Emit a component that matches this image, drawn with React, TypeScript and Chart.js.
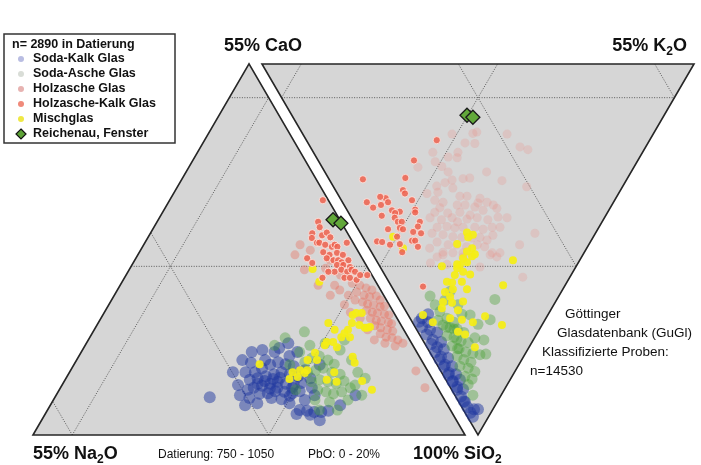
import React, { useEffect, useRef } from "react";
import { Chart, registerables } from "chart.js";

Chart.register(...registerables);

// ---------- DATA ----------
// Left diagram (Na2O – CaO – SiO2): pairs [Na2O %, CaO %], SiO2 = rest
// Right diagram (CaO – K2O – SiO2): pairs [CaO %, K2O %], SiO2 = rest

const sodaKalkLeft: number[][] = [
  [22.1, 9.3], [20.9, 9.9], [19.6, 10.4], [18.4, 10.8], [17.6, 10.5], [16.7, 10.2], [23.3, 8.2], [22.2, 8.4],
  [21.0, 8.7], [19.8, 9.0], [18.7, 9.3], [17.8, 9.0], [16.9, 8.7], [23.4, 7.0], [22.2, 7.3], [21.0, 7.6],
  [19.9, 7.9], [19.0, 7.6], [18.1, 7.4], [17.0, 7.7], [23.1, 6.1], [22.0, 6.2], [20.9, 6.5], [19.8, 6.4],
  [18.9, 6.2], [17.8, 6.5], [21.9, 5.5], [20.7, 5.3], [19.9, 11.1], [16.5, 11.7], [15.6, 9.6], [15.5, 8.4],
  [23.3, 9.3], [24.3, 6.7], [22.8, 11.1], [25.2, 7.4], [24.9, 9.3], [21.0, 12.3], [19.5, 12.6], [17.2, 12.9],
  [15.2, 12.3], [15.7, 13.6], [16.0, 7.0], [16.2, 5.9], [17.8, 5.2], [24.7, 5.5], [24.1, 4.7], [20.0, 4.7],
  [25.7, 5.9], [21.9, 10.7], [29.7, 5.6], [13.3, 10.4], [25.8, 4.4], [18.1, 12.3], [19.2, 3.7], [18.3, 3.6],
  [17.5, 3.4], [16.6, 3.4], [15.6, 3.6], [18.2, 3.0], [19.9, 3.1], [17.4, 2.2], [13.7, 4.4], [11.0, 5.9],
  [21.5, 8.0], [20.3, 8.3], [19.3, 8.5], [22.6, 7.6], [20.4, 7.0], [18.5, 7.0], [21.4, 6.9], [19.4, 5.8],
];
const sodaKalkRight: number[][] = [
  [15.8, 1.5], [14.7, 2.0], [15.1, 0.9], [13.9, 1.7], [12.8, 2.4], [14.0, 0.9], [12.8, 1.3], [11.6, 2.2],
  [12.7, 0.8], [11.7, 1.3], [10.7, 2.0], [11.6, 0.7], [10.5, 1.1], [9.5, 1.9], [10.5, 0.7], [9.4, 1.0],
  [8.4, 1.8], [9.4, 0.7], [8.3, 0.9], [7.3, 1.7], [8.2, 0.7], [7.2, 0.8], [6.4, 1.8], [7.2, 0.7],
  [6.2, 0.9], [5.3, 1.5], [6.0, 0.7], [5.0, 0.7], [4.1, 0.8], [4.3, 0.7], [3.4, 0.7], [2.6, 0.7],
  [2.0, 0.7], [2.4, 1.4], [15.3, 2.6], [15.9, 0.9], [1.9, 1.9],
];
const sodaAscheLeft: number[][] = [
  [15.0, 10.8], [13.8, 11.4], [12.7, 11.7], [11.9, 11.1], [11.4, 10.5], [15.4, 9.3], [14.2, 9.6], [13.1, 9.9],
  [12.3, 9.3], [11.4, 9.0], [15.6, 7.9], [14.4, 8.2], [13.5, 7.9], [12.6, 7.6], [11.4, 8.0], [15.4, 6.7],
  [14.5, 6.4], [13.7, 6.1], [12.5, 6.4], [11.1, 7.0], [14.9, 12.3], [13.1, 13.3], [11.0, 13.6], [9.6, 12.6],
  [8.9, 11.1], [9.0, 9.3], [10.3, 7.4], [12.3, 5.2], [14.8, 4.9], [16.5, 5.2], [18.2, 6.7], [17.1, 10.4],
  [15.7, 14.4], [12.8, 15.3], [10.2, 5.9], [14.4, 3.7], [16.7, 3.7], [8.5, 8.4], [17.6, 13.3], [8.3, 14.1],
];
const sodaAscheRight: number[][] = [
  [14.0, 4.3], [12.6, 4.7], [11.4, 5.3], [12.6, 3.7], [11.5, 4.4], [10.5, 5.2], [9.4, 5.8], [11.3, 3.4],
  [10.3, 4.2], [9.1, 4.8], [8.1, 5.6], [9.9, 3.3], [8.8, 4.0], [7.7, 4.6], [6.7, 5.4], [8.5, 3.2],
  [7.4, 3.8], [6.3, 4.5], [7.4, 2.8], [6.2, 3.7], [5.1, 4.3], [6.0, 2.7], [4.9, 3.4], [15.1, 4.2],
  [14.2, 5.8], [12.2, 7.1], [9.9, 7.9], [8.2, 8.2], [6.3, 7.8], [5.7, 6.2], [16.4, 4.2], [14.2, 7.1],
  [7.0, 10.1], [7.9, 12.2], [3.6, 2.3], [5.0, 2.5], [13.6, 3.4], [11.0, 6.9], [7.6, 6.8], [5.0, 7.0],
  [12.0, 4.0], [10.9, 4.8], [9.8, 4.4], [9.0, 3.8],
];
const holzascheRight: number[][] = [
  [22.6, 22.3], [22.0, 21.2], [25.6, 19.0], [23.3, 20.0], [18.6, 26.0], [16.0, 26.7], [14.8, 27.5], [26.7, 15.2],
  [23.5, 18.4], [24.4, 16.8], [23.2, 17.9], [27.5, 12.2], [24.5, 15.3], [25.7, 14.8], [18.4, 20.6], [23.3, 15.7],
  [20.9, 17.1], [20.1, 18.0], [22.2, 15.6], [15.8, 21.9], [23.7, 13.2], [22.9, 14.5], [21.5, 15.1], [12.2, 24.6],
  [24.4, 11.4], [23.1, 12.9], [20.0, 15.4], [19.1, 16.3], [17.3, 17.8], [22.9, 11.9], [21.7, 12.8], [17.2, 17.2],
  [16.1, 18.4], [15.1, 19.0], [21.7, 12.0], [19.7, 14.4], [18.7, 15.4], [17.3, 16.5], [16.0, 17.3], [14.4, 19.2],
  [22.0, 11.0], [20.3, 12.6], [18.8, 14.2], [17.3, 15.3], [22.2, 10.0], [20.6, 11.3], [19.4, 12.8], [18.4, 13.2],
  [17.4, 14.6], [16.2, 16.0], [14.7, 17.2], [13.6, 18.7], [12.4, 19.8], [20.6, 10.2], [19.4, 11.5], [18.3, 12.4],
  [17.3, 13.5], [15.8, 15.0], [14.6, 15.9], [13.6, 17.2], [12.6, 18.2], [7.7, 22.2], [20.8, 9.1], [19.3, 10.4],
  [17.9, 11.5], [16.7, 12.6], [15.4, 13.8], [14.4, 14.9], [13.3, 15.6], [12.9, 16.7], [19.5, 9.1], [17.9, 10.3],
  [16.8, 11.4], [15.4, 12.5], [14.2, 14.0], [13.1, 14.8], [20.0, 7.7], [18.0, 9.1], [16.7, 10.3], [15.4, 11.6],
  [11.7, 15.3], [10.8, 15.6], [18.4, 8.0], [8.8, 19.4], [23.0, 21.7], [17.8, 8.9], [15.1, 11.3], [11.8, 14.9],
  [10.7, 16.3], [6.0, 17.4], [18.8, 6.7], [16.6, 8.7], [12.2, 12.7],
];
const holzascheKalkLeft: number[][] = [
  [3.1, 22.5], [2.3, 22.2], [1.7, 21.8], [1.1, 21.5], [3.2, 21.2], [2.5, 20.7], [1.9, 20.5], [1.0, 20.6],
  [0.8, 20.0], [3.2, 19.7], [2.7, 19.4], [2.0, 19.3], [1.3, 19.0], [0.7, 19.1], [3.3, 18.5], [2.7, 18.2],
  [2.1, 18.1], [1.3, 17.9], [0.8, 17.8], [3.4, 17.3], [2.8, 17.0], [2.2, 16.9], [1.4, 16.7], [1.1, 16.5],
  [3.4, 16.2], [2.8, 15.9], [2.1, 15.6], [1.5, 15.4], [3.3, 15.0], [2.8, 14.5], [2.1, 14.4], [1.5, 14.1],
  [3.4, 13.6], [2.3, 13.2], [5.2, 21.5], [4.5, 20.7], [4.0, 20.0], [5.7, 19.3], [5.5, 22.2], [5.5, 18.2],
  [4.7, 17.3], [4.6, 15.6], [4.5, 14.1], [4.2, 25.9], [5.4, 24.7], [4.0, 23.7], [6.9, 28.2], [6.0, 27.4],
  [8.3, 26.7], [8.2, 24.5], [7.6, 22.2], [6.8, 20.7], [1.1, 13.6], [1.5, 9.5], [1.6, 7.0],
];
const holzascheKalkDatLeft: number[][] = [
  [0.7, 34.8], [2.9, 31.6], [3.1, 30.8], [4.5, 29.9], [4.9, 29.2], [3.4, 29.6], [2.6, 30.0], [2.5, 29.3],
  [4.6, 28.5], [4.3, 28.5], [3.7, 28.2], [3.0, 27.9], [2.5, 28.2], [2.3, 27.9], [0.8, 28.5], [4.5, 27.1],
  [3.9, 26.7], [2.8, 27.0], [2.2, 26.7], [4.5, 26.2], [3.8, 25.9], [3.2, 25.9], [2.9, 25.6], [1.9, 25.9],
  [7.0, 26.2], [6.7, 25.5], [3.7, 25.2], [2.9, 25.2], [2.2, 24.9], [4.5, 24.2], [3.5, 24.5], [5.3, 24.2],
  [2.9, 24.2], [2.2, 24.5], [1.9, 24.2], [3.7, 23.3], [3.0, 23.3], [2.3, 23.0], [1.5, 23.7], [6.5, 23.3],
  [0.6, 23.7],
];
const holzascheKalkDatRight: number[][] = [
  [27.1, 16.6], [28.5, 12.2], [33.6, 4.3], [28.3, 9.8], [27.7, 8.6], [27.2, 8.6], [25.8, 9.0], [29.3, 5.8],
  [30.1, 5.2], [31.4, 3.1], [28.7, 5.8], [29.4, 4.7], [30.2, 3.5], [27.6, 5.7], [26.5, 6.6], [27.0, 5.9],
  [24.7, 8.7], [24.5, 8.5], [28.5, 4.0], [26.7, 5.5], [26.0, 5.6], [25.5, 6.1], [23.2, 8.4], [23.1, 7.8],
  [26.7, 3.8], [25.3, 5.4], [24.8, 5.7], [23.3, 6.8], [22.2, 7.7], [25.0, 4.4], [22.8, 6.0], [22.4, 6.4],
  [27.2, 1.5], [26.5, 2.1], [25.3, 2.9], [24.1, 4.2], [21.6, 6.3], [23.2, 3.9], [18.0, 4.0],
];
const mischglasLeft: number[][] = [
  [20.9, 10.5], [18.2, 8.3], [17.3, 9.3], [16.2, 9.6], [15.8, 9.2], [14.5, 11.1], [13.0, 12.2], [13.3, 11.1],
  [11.2, 13.3], [10.7, 13.8], [9.9, 13.8], [9.8, 13.0], [8.5, 14.5], [7.8, 15.1], [7.1, 15.6], [7.4, 14.5],
  [9.1, 16.6], [8.8, 15.6], [6.1, 16.6], [5.4, 17.8], [4.8, 18.1], [4.1, 18.1], [4.8, 15.9], [4.5, 15.9],
  [8.5, 11.6], [8.7, 10.7], [12.0, 9.3], [13.5, 8.2], [12.4, 7.9], [9.1, 8.0], [8.5, 6.7], [15.3, 9.6],
  [17.0, 8.6], [7.1, 24.6], [7.2, 22.7], [5.3, 16.3], [4.1, 16.0],
];
const mischglasRight: number[][] = [
  [14.0, 12.5], [14.2, 11.4], [14.9, 10.3], [14.0, 10.2], [14.8, 8.9], [15.0, 9.7], [15.3, 7.4], [14.6, 8.0],
  [13.4, 9.3], [12.9, 10.9], [14.8, 6.4], [14.0, 7.6], [13.8, 6.7], [12.2, 9.4], [14.3, 5.4], [13.1, 6.5],
  [11.8, 8.0], [14.0, 4.8], [11.8, 6.7], [15.9, 1.9], [12.2, 5.1], [10.6, 6.5], [9.0, 7.7], [7.9, 9.7],
  [5.1, 11.2], [10.2, 5.1], [9.1, 5.8], [6.9, 6.1], [8.5, 17.4], [7.9, 14.3], [14.1, 2.6], [16.4, 13.6],
  [15.5, 14.2], [15.9, 13.4], [16.8, 11.5], [14.6, 13.1], [15.0, 12.2], [13.8, 13.0], [15.0, 11.2], [17.1, 7.9],
  [15.3, 10.0], [25.5, 3.9], [23.4, 4.3],
];
const reichenauLeft: number[][] = [[0.85, 31.9], [0.1, 31.4]];
const reichenauRight: number[][] = [[25.1, 22.3], [24.2, 22.9]];

const legendTitle = "n= 2890 in Datierung";
const legendLabels = [
  "Soda-Kalk Glas",
  "Soda-Asche Glas",
  "Holzasche Glas",
  "Holzasche-Kalk Glas",
  "Mischglas",
  "Reichenau, Fenster",
];
const gridOxide = [25, 50];
const gridSiO2 = [50, 75];
const infoLines = ["Göttinger", "Glasdatenbank (GuGl)", "Klassifizierte Proben:", "n=14530"];
const footDating = "Datierung: 750 - 1050";
const footPbO = "PbO: 0 - 20%";

// ---------- GEOMETRY (ternary -> plane) ----------
const H = Math.sqrt(3) / 2;
const RIGHT_OFFSET = 56.65;
const leftXY = (p: number[]) => ({ x: 55 - p[0] - p[1] / 2, y: H * p[1] });
const rightXY = (p: number[]) => ({ x: RIGHT_OFFSET + (p[1] - p[0]) / 2, y: H * (p[0] + p[1]) });

const leftCorners = [[55, 0], [0, 55], [0, 0]];
const rightCorners = [[55, 0], [0, 55], [0, 0]];

function leftGrid(): number[][][] {
  const g: number[][][] = [];
  gridOxide.forEach((v) => {
    g.push([[55 - v, v], [0, v]]); // CaO
    g.push([[v, 0], [v, 55 - v]]); // Na2O
  });
  gridSiO2.forEach((w) => {
    const t = 100 - w;
    g.push([[t, 0], [0, t]]);
  });
  return g;
}
function rightGrid(): number[][][] {
  const g: number[][][] = [];
  gridOxide.forEach((v) => {
    g.push([[v, 0], [v, 55 - v]]); // CaO
    g.push([[0, v], [55 - v, v]]); // K2O
  });
  gridSiO2.forEach((w) => {
    const t = 100 - w;
    g.push([[t, 0], [0, t]]);
  });
  return g;
}

const legendMarkers = [
  { color: "#b9bde2", diamond: false },
  { color: "#d9ddd7", diamond: false },
  { color: "#e7b3b1", diamond: false },
  { color: "#f08a7a", diamond: false },
  { color: "#efe845", diamond: false },
  { color: "#5da236", diamond: true },
];

const FONT = '"Liberation Sans", Arial, Helvetica, sans-serif';

function drawFormula(ctx: CanvasRenderingContext2D, parts: { t: string; sub?: boolean }[], x: number, y: number, align: "left" | "right" | "center") {
  const big = `bold 18px ${FONT}`;
  const small = `bold 12px ${FONT}`;
  let total = 0;
  parts.forEach((p) => {
    ctx.font = p.sub ? small : big;
    total += ctx.measureText(p.t).width;
  });
  let cx = align === "left" ? x : align === "right" ? x - total : x - total / 2;
  ctx.textAlign = "left";
  ctx.textBaseline = "alphabetic";
  parts.forEach((p) => {
    ctx.font = p.sub ? small : big;
    ctx.fillText(p.t, cx, p.sub ? y + 4 : y);
    cx += ctx.measureText(p.t).width;
  });
}

const framePlugin = {
  id: "ternaryFrame",
  beforeDatasetsDraw(chart: any) {
    const { ctx, scales } = chart;
    const px = (pt: { x: number; y: number }) => [scales.x.getPixelForValue(pt.x), scales.y.getPixelForValue(pt.y)];
    const polys = [leftCorners.map((c) => px(leftXY(c))), rightCorners.map((c) => px(rightXY(c)))];
    ctx.save();
    polys.forEach((poly) => {
      ctx.beginPath();
      poly.forEach((p, i) => (i ? ctx.lineTo(p[0], p[1]) : ctx.moveTo(p[0], p[1])));
      ctx.closePath();
      ctx.fillStyle = "#d6d6d6";
      ctx.fill();
    });
    ctx.setLineDash([1, 1.5]);
    ctx.strokeStyle = "#5a5a5a";
    ctx.lineWidth = 1;
    const segs = [
      ...leftGrid().map((s) => s.map((c) => px(leftXY(c)))),
      ...rightGrid().map((s) => s.map((c) => px(rightXY(c)))),
    ];
    segs.forEach((s) => {
      ctx.beginPath();
      ctx.moveTo(s[0][0], s[0][1]);
      ctx.lineTo(s[1][0], s[1][1]);
      ctx.stroke();
    });
    ctx.setLineDash([]);
    ctx.strokeStyle = "#262626";
    ctx.lineWidth = 1.6;
    ctx.lineJoin = "miter";
    polys.forEach((poly) => {
      ctx.beginPath();
      poly.forEach((p, i) => (i ? ctx.lineTo(p[0], p[1]) : ctx.moveTo(p[0], p[1])));
      ctx.closePath();
      ctx.stroke();
    });
    ctx.restore();
  },
  afterDraw(chart: any) {
    const { ctx, scales } = chart;
    const px = (pt: { x: number; y: number }) => [scales.x.getPixelForValue(pt.x), scales.y.getPixelForValue(pt.y)];
    const lNa = px(leftXY(leftCorners[0]));
    const lCa = px(leftXY(leftCorners[1]));
    const lSi = px(leftXY(leftCorners[2]));
    const rK = px(rightXY(rightCorners[1]));
    ctx.save();
    ctx.fillStyle = "#111";
    drawFormula(ctx, [{ t: "55% CaO" }], lCa[0] + 14, lCa[1] - 13, "center");
    drawFormula(ctx, [{ t: "55% K" }, { t: "2", sub: true }, { t: "O" }], rK[0] - 7, rK[1] - 13, "right");
    drawFormula(ctx, [{ t: "55% Na" }, { t: "2", sub: true }, { t: "O" }], lNa[0], lNa[1] + 24, "left");
    drawFormula(ctx, [{ t: "100% SiO" }, { t: "2", sub: true }], lSi[0] - 52, lSi[1] + 24, "left");

    ctx.font = `12px ${FONT}`;
    ctx.textAlign = "left";
    ctx.textBaseline = "middle";
    ctx.fillText(footDating, 158, 455, 119);
    ctx.fillText(footPbO, 308, 455, 72);

    ctx.font = `13.5px ${FONT}`;
    ctx.textBaseline = "alphabetic";
    const infoX = [565, 557, 542, 530];
    infoLines.forEach((t, i) => ctx.fillText(t, infoX[i], 318 + i * 19));

    ctx.fillStyle = "#ffffff";
    ctx.fillRect(4, 34, 171, 109);
    ctx.strokeStyle = "#333";
    ctx.lineWidth = 1.5;
    ctx.strokeRect(4, 34, 171, 109);
    ctx.fillStyle = "#111";
    ctx.font = `bold 12.5px ${FONT}`;
    ctx.textBaseline = "middle";
    ctx.fillText(legendTitle, 12, 45);
    legendLabels.forEach((lab, i) => {
      const yy = 59 + i * 15;
      const m = legendMarkers[i];
      ctx.beginPath();
      if (m.diamond) {
        ctx.moveTo(21, yy - 5);
        ctx.lineTo(26, yy);
        ctx.lineTo(21, yy + 5);
        ctx.lineTo(16, yy);
        ctx.closePath();
        ctx.fillStyle = m.color;
        ctx.fill();
        ctx.strokeStyle = "#111";
        ctx.lineWidth = 1.2;
        ctx.stroke();
      } else {
        ctx.arc(21, yy, 3, 0, Math.PI * 2);
        ctx.fillStyle = m.color;
        ctx.fill();
      }
      ctx.fillStyle = "#111";
      ctx.fillText(lab, 33, yy);
    });
    ctx.restore();
  },
};

export default function App() {
  const ref = useRef<HTMLCanvasElement | null>(null);
  useEffect(() => {
    if (!ref.current) return;
    const pts = (arr: number[][], f: (p: number[]) => { x: number; y: number }) => arr.map(f);
    const chart = new Chart(ref.current, {
      type: "scatter",
      data: {
        datasets: [
          {
            label: legendLabels[5],
            data: [...pts(reichenauLeft, leftXY), ...pts(reichenauRight, rightXY)],
            pointStyle: "rectRot",
            pointRadius: 7,
            backgroundColor: "#62a83a",
            borderColor: "#1a1a1a",
            borderWidth: 1.3,
            order: 0,
          },
          {
            label: legendLabels[3] + " (datiert)",
            data: [...pts(holzascheKalkDatLeft, leftXY), ...pts(holzascheKalkDatRight, rightXY)],
            pointRadius: 3.6,
            backgroundColor: "rgba(238,98,78,0.85)",
            borderColor: "rgba(255,235,230,0.8)",
            borderWidth: 1,
            order: 1,
          },
          {
            label: legendLabels[4],
            data: [...pts(mischglasLeft, leftXY), ...pts(mischglasRight, rightXY)],
            pointRadius: 4,
            backgroundColor: "rgba(245,238,20,0.92)",
            borderWidth: 0,
            order: 2,
          },
          {
            label: legendLabels[1],
            data: [...pts(sodaAscheLeft, leftXY), ...pts(sodaAscheRight, rightXY)],
            pointRadius: 5.5,
            backgroundColor: "rgba(70,160,50,0.38)",
            borderWidth: 0,
            order: 3,
          },
          {
            label: legendLabels[0],
            data: [...pts(sodaKalkLeft, leftXY), ...pts(sodaKalkRight, rightXY)],
            pointRadius: 6,
            backgroundColor: "rgba(32,56,160,0.5)",
            borderWidth: 0,
            order: 4,
          },
          {
            label: legendLabels[3],
            data: pts(holzascheKalkLeft, leftXY),
            pointRadius: 4.5,
            backgroundColor: "rgba(236,100,80,0.35)",
            borderWidth: 0,
            order: 5,
          },
          {
            label: legendLabels[2],
            data: pts(holzascheRight, rightXY),
            pointRadius: 4.5,
            backgroundColor: "rgba(236,140,130,0.24)",
            borderWidth: 0,
            order: 6,
          },
        ],
      },
      options: {
        animation: false,
        responsive: false,
        devicePixelRatio: 1,
        layout: { padding: 0, autoPadding: false },
        scales: {
          x: { type: "linear", display: false, min: -4.2, max: 85.04 },
          y: { type: "linear", display: false, min: -3.85, max: 55.84 },
        },
        plugins: { legend: { display: false }, tooltip: { enabled: false } },
      },
      plugins: [framePlugin],
    });
    return () => chart.destroy();
  }, []);
  return (
    <div style={{ position: "absolute", left: 0, top: 0, width: 701, height: 465, background: "#fff" }}>
      <canvas ref={ref} width={701} height={465} style={{ display: "block" }} />
    </div>
  );
}
